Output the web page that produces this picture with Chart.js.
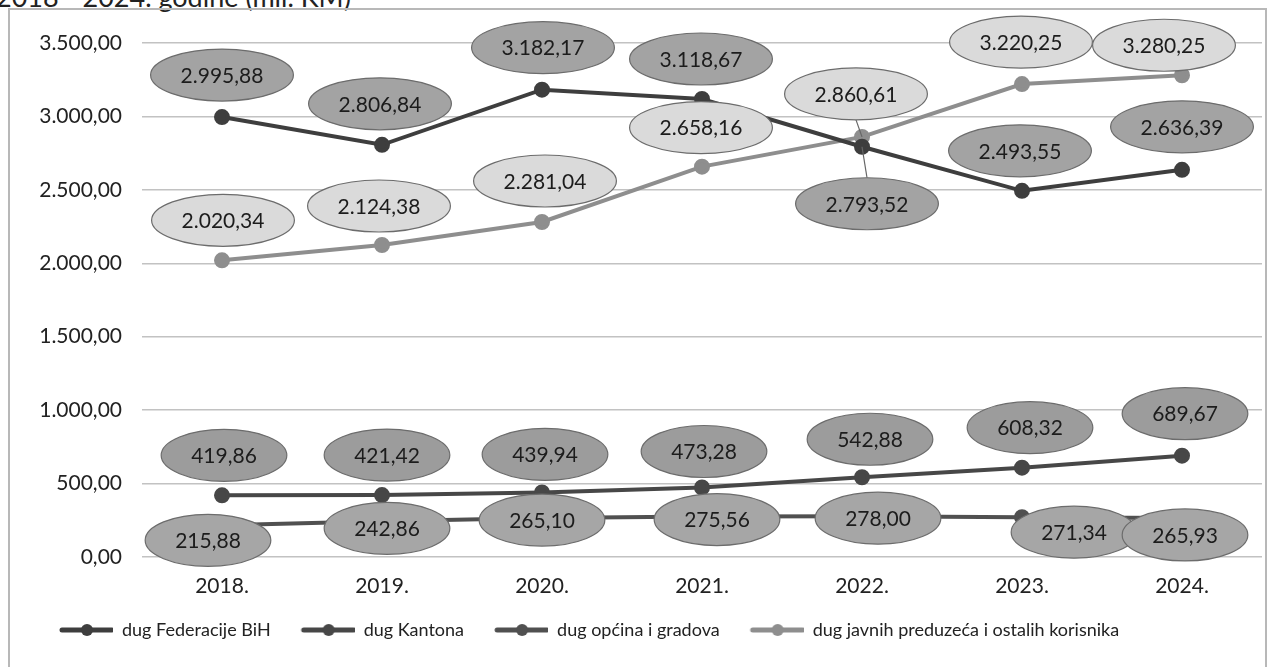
<!DOCTYPE html>
<html>
<head>
<meta charset="utf-8">
<script src="https://cdn.jsdelivr.net/npm/chart.js@4.4.1/dist/chart.umd.min.js"></script>
<style>
  body { margin: 0; background: #fff; overflow: hidden; }
  #naslov { position: absolute; left: -4px; top: -20px; font: 27px Lato, sans-serif; color: #222; white-space: nowrap; }
  #okvir { position: absolute; left: 8px; top: 8px; width: 1255px; height: 700px; border: 2px solid #b8b8b8; }
  #omotac { position: absolute; left: 0; top: 0; width: 1273px; height: 667px; }
</style>
</head>
<body>
<div id="naslov">2018 - 2024. godine (mil. KM)</div>
<div id="okvir"></div>
<div id="omotac"><canvas id="grafikon"></canvas></div>
<script>
const godine = ['2018.', '2019.', '2020.', '2021.', '2022.', '2023.', '2024.'];
const dugFederacije = [2995.88, 2806.84, 3182.17, 3118.67, 2793.52, 2493.55, 2636.39];
const dugKantona = [419.86, 421.42, 439.94, 473.28, 542.88, 608.32, 689.67];
const dugOpcina = [215.88, 242.86, 265.10, 275.56, 278.00, 271.34, 265.93];
const dugJavnih = [2020.34, 2124.38, 2281.04, 2658.16, 2860.61, 3220.25, 3280.25];
const osaY = { min: 0, max: 3500, korak: 500 };

// broj u formatu 3.500,00
function formatKM(v) {
  const dijelovi = Math.abs(v).toFixed(2).split('.');
  return dijelovi[0].replace(/\B(?=(\d{3})+(?!\d))/g, '.') + ',' + dijelovi[1];
}

// oznaka u legendi: linija s tackom u sredini (lijevo ostaje prazno zbog razmaka)
function znakLegende(boja) {
  const c = document.createElement('canvas');
  c.width = 70; c.height = 14;
  const g = c.getContext('2d');
  g.strokeStyle = boja; g.lineWidth = 5; g.lineCap = 'round';
  g.beginPath(); g.moveTo(19, 7); g.lineTo(69, 7); g.stroke();
  g.fillStyle = boja;
  g.beginPath(); g.arc(44, 7, 6, 0, Math.PI * 2); g.fill();
  return c;
}

// elipse s vrijednostima iznad/pored tacaka
const oblaciPlugin = {
  id: 'oblaci',
  afterDatasetsDraw(chart) {
    const ctx = chart.ctx;
    ctx.save();
    ctx.font = '21px Lato';
    ctx.textAlign = 'center';
    ctx.textBaseline = 'middle';
    chart.data.datasets.forEach((ds, i) => {
      const meta = chart.getDatasetMeta(i);
      meta.data.forEach((tacka, j) => {
        const pomak = ds.pomak[j];
        const cx = tacka.x + pomak[0];
        const cy = tacka.y + pomak[1];
        const tekst = formatKM(ds.data[j]);
        const rx = ctx.measureText(tekst).width / 2 + 30;
        const ry = 26;
        if (ds.vodilica && ds.vodilica[j]) {
          ctx.strokeStyle = '#666';
          ctx.lineWidth = 1.2;
          ctx.beginPath();
          ctx.moveTo(tacka.x, tacka.y);
          ctx.lineTo(cx, cy + (pomak[1] > 0 ? -ry : ry));
          ctx.stroke();
        }
        ctx.beginPath();
        ctx.ellipse(cx, cy, rx, ry, 0, 0, Math.PI * 2);
        ctx.fillStyle = ds.bojaOblaka;
        ctx.fill();
        ctx.lineWidth = 1.2;
        ctx.strokeStyle = '#6c6c6c';
        ctx.stroke();
        ctx.fillStyle = '#1c1c1c';
        ctx.fillText(tekst, cx, cy + 1);
      });
    });
    ctx.restore();
  }
};

function serija(naziv, podaci, boja, bojaOblaka, pomak, vodilica) {
  return {
    label: naziv,
    data: podaci,
    borderColor: boja,
    backgroundColor: boja,
    borderWidth: 4,
    pointRadius: 6,
    pointHoverRadius: 6,
    pointBackgroundColor: boja,
    pointBorderColor: boja,
    tension: 0,
    bojaOblaka: bojaOblaka,
    pomak: pomak,
    vodilica: vodilica
  };
}

const boje = ['#3e3e3e', '#474747', '#505050', '#8e8e8e'];
const znakovi = boje.map(znakLegende);

const grafikon = new Chart(document.getElementById('grafikon'), {
  type: 'line',
  data: {
    labels: godine,
    datasets: [
      serija('dug Federacije BiH', dugFederacije, boje[0], '#a3a3a3',
        [[0, -42], [-2, -41], [1, -42], [-1, -40], [5, 57], [-2, -40], [0, -43]],
        [false, false, false, false, true, false, false]),
      serija('dug Kantona', dugKantona, boje[1], '#9c9c9c',
        [[2, -40], [5, -40], [3, -38], [2, -36], [8, -38], [8, -40], [3, -42]]),
      serija('dug općina i gradova', dugOpcina, boje[2], '#a6a6a6',
        [[-14, 15], [5, 7], [0, 2], [15, 3], [16, 2], [52, 15], [3, 17]]),
      serija('dug javnih preduzeća i ostalih korisnika', dugJavnih, boje[3], '#dadada',
        [[1, -40], [-3, -39], [3, -41], [-1, -39], [-6, -43], [-1, -42], [-18, -30]],
        [false, false, false, false, true, false, false])
    ]
  },
  options: {
    responsive: true,
    maintainAspectRatio: false,
    animation: false,
    layout: { padding: { left: 29, top: 43, right: 11, bottom: 18 } },
    plugins: {
      tooltip: { enabled: false },
      legend: {
        position: 'bottom',
        align: 'start',
        labels: {
          usePointStyle: true,
          pointStyleWidth: 70,
          boxHeight: 18,
          padding: 14,
          color: '#222',
          font: { family: 'Lato', size: 18 },
          generateLabels(chart) {
            const stavke = Chart.defaults.plugins.legend.labels.generateLabels(chart);
            stavke.forEach((s, i) => { s.pointStyle = znakovi[i]; });
            return stavke;
          }
        }
      }
    },
    scales: {
      x: {
        offset: true,
        grid: { display: false, offset: true },
        border: { display: false },
        ticks: { color: '#222', padding: 9, font: { family: 'Lato', size: 21 } },
        afterFit(scale) { scale.height = 50; }
      },
      y: {
        min: osaY.min,
        max: osaY.max,
        grid: { color: '#c2c2c2', lineWidth: 1.5, drawTicks: false },
        border: { display: false },
        ticks: {
          stepSize: osaY.korak,
          color: '#222',
          padding: 20,
          font: { family: 'Lato', size: 21 },
          callback: v => formatKM(v)
        },
        afterFit(scale) { scale.width = 113; }
      }
    }
  },
  plugins: [oblaciPlugin]
});
</script>
</body>
</html>
